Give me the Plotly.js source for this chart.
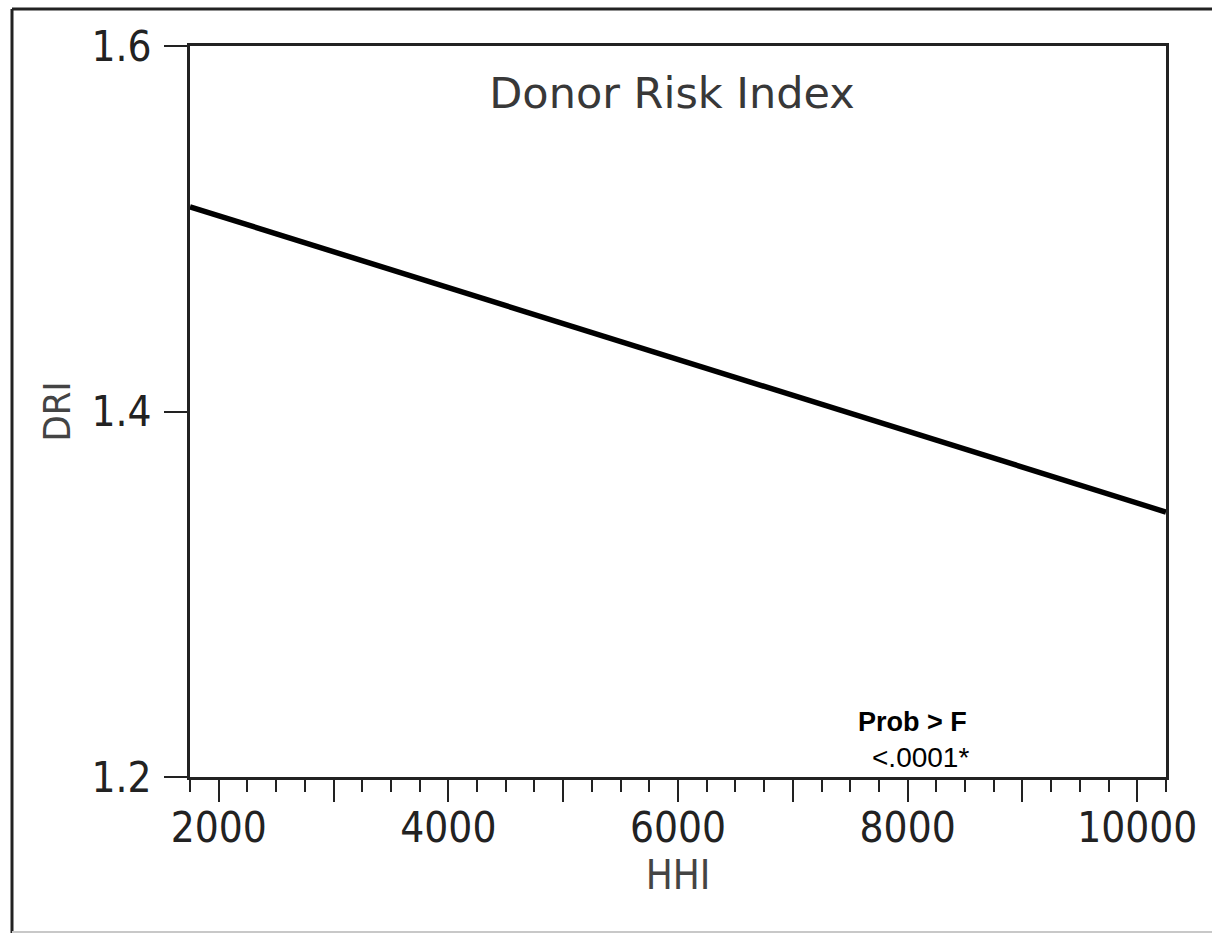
<!DOCTYPE html>
<html>
<head>
<meta charset="utf-8">
<script src="https://cdn.plot.ly/plotly-3.0.1.min.js"></script>
<style>
  html, body { margin: 0; padding: 0; background: #ffffff; overflow: hidden; }
  #chart { width: 1212px; height: 934px; }
</style>
</head>
<body>
<div id="chart"></div>
<script>
// Fitted line of donor risk index against market concentration (HHI)
const hhi = [1750, 10250];
const dri = [1.512, 1.345];

// Axis ticks
const xTickVals = [2000, 3000, 4000, 5000, 6000, 7000, 8000, 9000, 10000];
const xTickText = ['2000', '', '4000', '', '6000', '', '8000', '', '10000'];
const yTickVals = [1.2, 1.4, 1.6];
const yTickText = ['1.2', '1.4', '1.6'];

// Significance label
const probHeader = 'Prob > F';
const probValue = '<.0001*';

const axisFont = 'DejaVu Sans Condensed, DejaVu Sans, sans-serif';

// plot-area edges in pixels, used to place the outer frame in paper units
const W = 1212, H = 934;
const L = 190, R = 46, T = 46, B = 157;
const pw = W - L - R, ph = H - T - B;
const px = v => (v - L) / pw;
const py = v => (H - B - v) / ph;

const trace = {
  type: 'scatter',
  mode: 'lines',
  x: hhi,
  y: dri,
  line: { color: '#000000', width: 5.5 },
  hoverinfo: 'skip',
  showlegend: false
};

const layout = {
  width: W,
  height: H,
  margin: { l: L, r: R, t: T, b: B, pad: 0 },
  paper_bgcolor: '#ffffff',
  plot_bgcolor: '#ffffff',
  showlegend: false,
  title: {
    text: 'Donor Risk Index',
    font: { family: 'DejaVu Sans, sans-serif', size: 43, color: '#383838' },
    x: px(672), xref: 'paper', xanchor: 'center',
    y: py(93), yref: 'paper', yanchor: 'middle'
  },
  xaxis: {
    range: [1750, 10250],
    showgrid: false,
    zeroline: false,
    showline: true,
    linecolor: '#222222',
    linewidth: 3,
    mirror: true,
    ticks: 'outside',
    ticklen: 22,
    tickwidth: 2,
    tickcolor: '#222222',
    tickmode: 'array',
    tickvals: xTickVals,
    ticktext: xTickText,
    ticklabelstandoff: -10,
    tickfont: { family: axisFont, size: 42, color: '#222222' },
    minor: { tick0: 0, dtick: 250, ticks: 'outside', ticklen: 12, tickwidth: 2, tickcolor: '#222222', showgrid: false },
    title: {
      text: 'HHI',
      font: { family: axisFont, size: 40, color: '#444444' },
      standoff: 4
    }
  },
  yaxis: {
    range: [1.2, 1.6],
    showgrid: false,
    zeroline: false,
    showline: true,
    linecolor: '#222222',
    linewidth: 3,
    mirror: true,
    ticks: 'outside',
    ticklen: 23,
    tickwidth: 2,
    tickcolor: '#222222',
    tickmode: 'array',
    tickvals: yTickVals,
    ticktext: yTickText,
    ticklabelstandoff: 4,
    tickfont: { family: axisFont, size: 42, color: '#222222' },
    title: {
      text: 'DRI',
      font: { family: axisFont, size: 38, color: '#444444' },
      standoff: 10
    }
  },
  annotations: [
    {
      text: '<b>' + probHeader.replace('>', '&gt;') + '</b>',
      xref: 'paper', yref: 'paper',
      x: px(969), y: py(722),
      xanchor: 'right', yanchor: 'middle',
      showarrow: false,
      font: { family: 'Liberation Sans, Arial, sans-serif', size: 27, color: '#000000' }
    },
    {
      text: probValue.replace('<', '&lt;'),
      xref: 'paper', yref: 'paper',
      x: px(971), y: py(757),
      xanchor: 'right', yanchor: 'middle',
      showarrow: false,
      font: { family: 'Liberation Sans, Arial, sans-serif', size: 28, color: '#000000' }
    }
  ],
  shapes: [
    // outer frame: left and top edges dark, bottom edge faint
    { type: 'line', xref: 'paper', yref: 'paper', x0: px(12), x1: px(12), y0: py(9), y1: py(933),
      line: { color: '#222222', width: 3 } },
    { type: 'line', xref: 'paper', yref: 'paper', x0: px(12), x1: px(1215), y0: py(9), y1: py(9),
      line: { color: '#222222', width: 3 } },
    { type: 'line', xref: 'paper', yref: 'paper', x0: px(12), x1: px(1215), y0: py(932), y1: py(932),
      line: { color: '#c8c8c8', width: 2 } }
  ]
};

Plotly.newPlot('chart', [trace], layout, { staticPlot: true, displayModeBar: false });
</script>
</body>
</html>
